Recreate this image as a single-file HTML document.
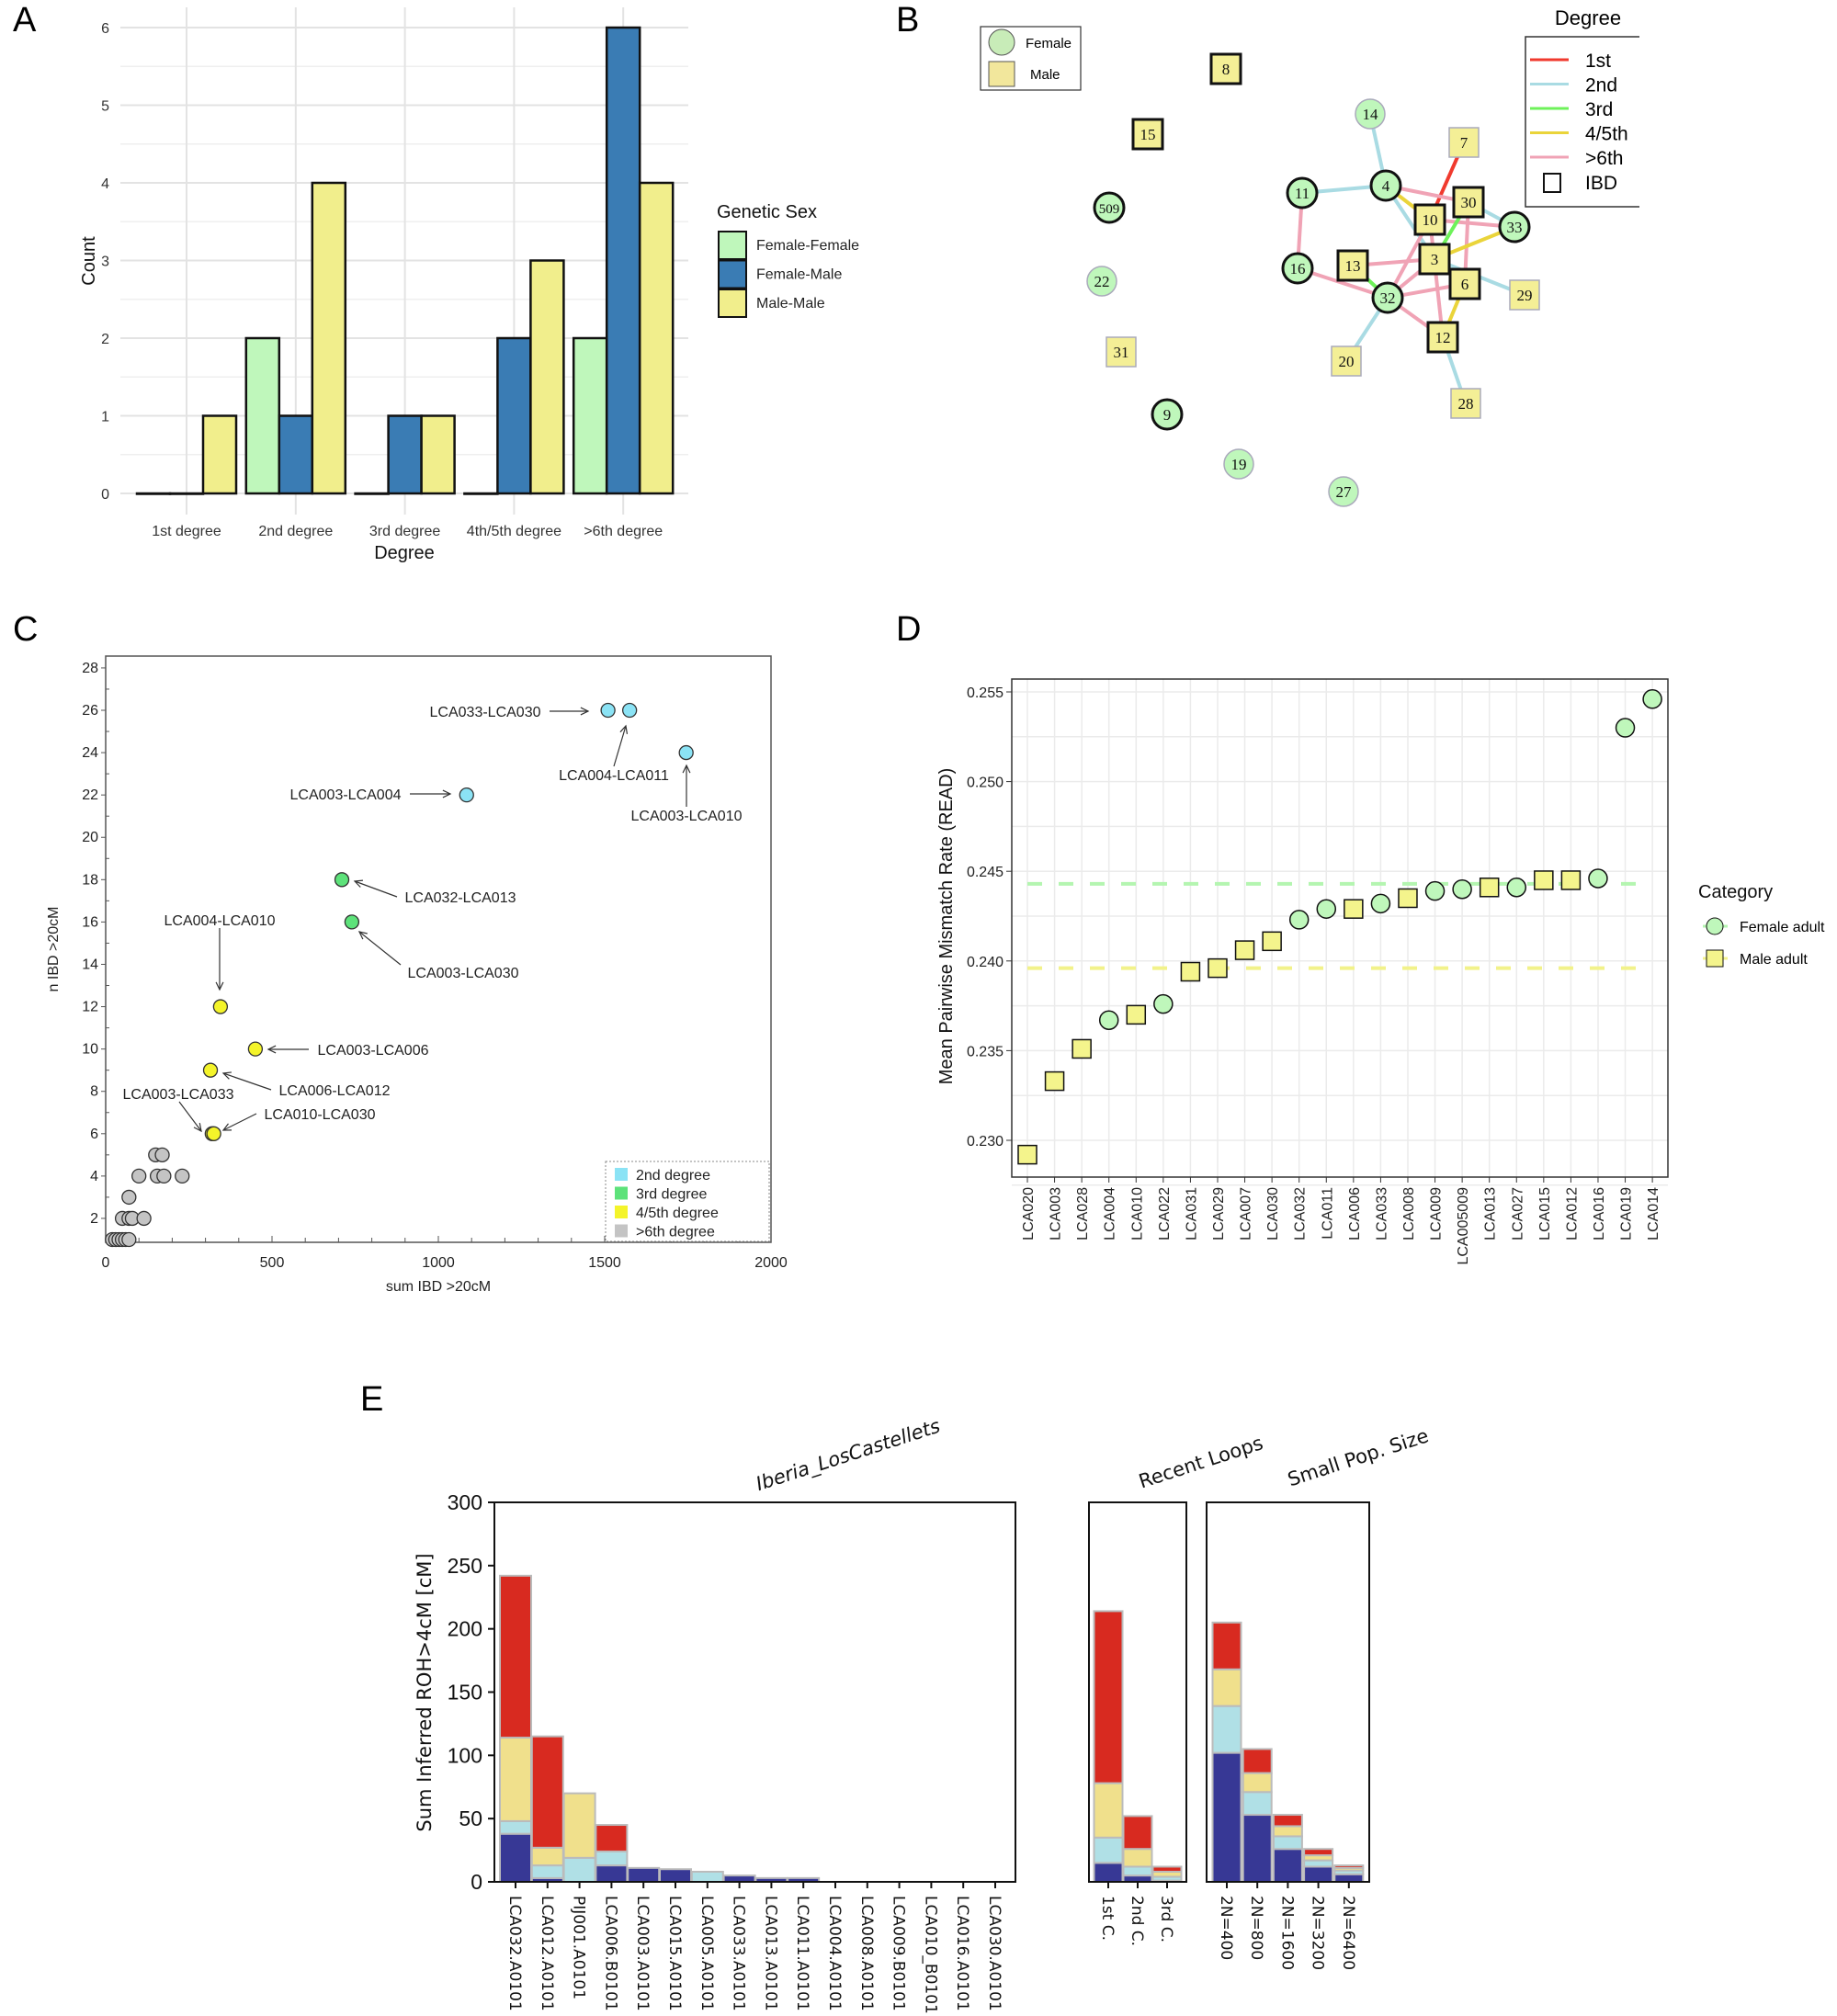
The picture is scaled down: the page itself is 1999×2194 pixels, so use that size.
<!DOCTYPE html>
<html><head><meta charset="utf-8"><style>
body{margin:0;background:#fff}
svg{display:block;font-family:"Liberation Sans",sans-serif}
</style></head><body>
<svg id="fig" width="1999" height="2194" viewBox="0 0 1999 2194" xmlns="http://www.w3.org/2000/svg"></svg>
<script>
// ---------- Panel A data ----------
const aCategories = ["1st degree","2nd degree","3rd degree","4th/5th degree",">6th degree"];
const aSeries = ["Female-Female","Female-Male","Male-Male"];
const aFF = [0,2,0,0,2];
const aFM = [0,1,1,2,6];
const aMM = [1,4,1,3,4];
const aTicks = [0,1,2,3,4,5,6];
// ---------- Panel C data ----------
const cSum = [1510,1575,1745,1085,710,740,345,450,315,320,325,150,170,100,155,175,230,70,50,70,80,115,20,30,40,50,60,70];
const cN   = [26,26,24,22,18,16,12,10,9,6,6,5,5,4,4,4,4,3,2,2,2,2,1,1,1,1,1,1];
const cDeg = ["2nd","2nd","2nd","2nd","3rd","3rd","45","45","45","45","45","6","6","6","6","6","6","6","6","6","6","6","6","6","6","6","6","6"];
const cXTicks = [0,500,1000,1500,2000];
const cYTicks = [2,4,6,8,10,12,14,16,18,20,22,24,26,28];
// ---------- Panel D data ----------
const dSamples = ["LCA020","LCA003","LCA028","LCA004","LCA010","LCA022","LCA031","LCA029","LCA007","LCA030","LCA032","LCA011","LCA006","LCA033","LCA008","LCA009","LCA005009","LCA013","LCA027","LCA015","LCA012","LCA016","LCA019","LCA014"];
const dValues = [0.2292,0.2333,0.2351,0.2367,0.2370,0.2376,0.2394,0.2396,0.2406,0.2411,0.2423,0.2429,0.2429,0.2432,0.2435,0.2439,0.2440,0.2441,0.2441,0.2445,0.2445,0.2446,0.2530,0.2546];
const dSex = ["M","M","M","F","M","F","M","M","M","M","F","F","M","F","M","F","F","M","F","M","M","F","F","F"];
const dTicks = [0.230,0.235,0.240,0.245,0.250,0.255];
const dFemaleMean = 0.2443;
const dMaleMean = 0.2396;
// ---------- Panel E data ----------
const eSamples = ["LCA032.A0101","LCA012.A0101","PIJ001.A0101","LCA006.B0101","LCA003.A0101","LCA015.A0101","LCA005.A0101","LCA033.A0101","LCA013.A0101","LCA011.A0101","LCA004.A0101","LCA008.A0101","LCA009.B0101","LCA010_B0101","LCA016.A0101","LCA030.A0101"];
const eDark  = [38,3,0,13,11,10,0,5,3,3,0,0,0,0,0,0];
const eLight = [10,10,19,11,0,0,8,0,0,0,0,0,0,0,0,0];
const eBeige = [66,14,51,0,0,0,0,0,0,0,0,0,0,0,0,0];
const eRed   = [128,88,0,21,0,0,0,0,0,0,0,0,0,0,0,0];
const loopCats = ["1st C.","2nd C.","3rd C."];
const loopDark = [15,5,1];
const loopLight = [20,7,3];
const loopBeige = [43,14,4];
const loopRed = [136,26,4];
const popCats = ["2N=400","2N=800","2N=1600","2N=3200","2N=6400"];
const popDark = [102,53,26,12,6];
const popLight = [37,18,10,5,3];
const popBeige = [29,15,8,4,2];
const popRed = [37,19,9,5,2];
const eTicks = [0,50,100,150,200,250,300];

const NS="http://www.w3.org/2000/svg";
const svg=document.getElementById('fig');
function el(tag,attrs,parent,text){const e=document.createElementNS(NS,tag);for(const k in attrs)e.setAttribute(k,attrs[k]);if(text!==undefined)e.textContent=text;(parent||svg).appendChild(e);return e;}
function grp(name){const g=el('g',{});return g;}

// panel letters
[["A",14,34],["B",975,34],["C",14,697],["D",975,697],["E",392,1535]].forEach(p=>{
  const t=el('text',{x:p[1],y:p[2],'font-size':38},svg,p[0]);
  
  
});

// ================= Panel A =================
(function(){
  const g=grp('panel-a-bar-chart');
  const x0=131,x1=749,yZero=537,unit=84.5;
  const yS=v=>yZero-v*unit;
  const cx=i=>203+i*118.8;
  for(let v=0.5;v<=6.5;v+=1){el('line',{x1:x0,x2:x1,y1:yS(v),y2:yS(v),stroke:'#efefef','stroke-width':1.5},g);}
  aTicks.forEach(v=>{el('line',{x1:x0,x2:x1,y1:yS(v),y2:yS(v),stroke:'#e3e3e3','stroke-width':2},g);
    const t=el('text',{x:119,y:yS(v)+6,'font-size':16,'text-anchor':'end',fill:'#333'},g,String(v));
    
    });
  aCategories.forEach((c,i)=>{el('line',{x1:cx(i),x2:cx(i),y1:8,y2:560,stroke:'#e3e3e3','stroke-width':2},g);
    const t=el('text',{x:cx(i),y:583,'font-size':16,'text-anchor':'middle',fill:'#333'},g,c);
    
    });
  const cols=['#bff7bb','#3a7cb4','#f1ee8c'];
  const series=[aFF,aFM,aMM];
  aCategories.forEach((c,i)=>{series.forEach((s,j)=>{
    const bx=cx(i)+(j-1)*36-18;
    const r=el('rect',{x:bx,y:yS(s[i]),width:36,height:Math.max(s[i]*unit,0.5),fill:cols[j],stroke:'#111','stroke-width':2.5},g);
    
    
  });});
  let t=el('text',{x:440,y:608,'font-size':20,'text-anchor':'middle',fill:'#111'},g,'Degree');
  
  
  t=el('text',{x:0,y:0,'font-size':20,'text-anchor':'middle',fill:'#111',transform:'translate(103,284) rotate(-90)'},g,'Count');
  
  
  t=el('text',{x:780,y:237,'font-size':20,fill:'#111'},g,'Genetic Sex');
  
  
  aSeries.forEach((s,j)=>{
    const lg=grp('legend-entry');
    el('rect',{x:782,y:252+j*31.5,width:30,height:30,fill:cols[j],stroke:'#111','stroke-width':2},lg);
    el('text',{x:823,y:272+j*31.5,'font-size':16,fill:'#222'},lg,s);
  });
})();

// ================= Panel B =================
(function(){
  const g=grp('panel-b-network');
  const nodes={8:[1334,75,'M',1],15:[1249,146,'M',1],509:[1207,226,'F',1],22:[1199,306,'F',0],31:[1220,383,'M',0],9:[1270,451,'F',1],19:[1348,505,'F',0],27:[1462,535,'F',0],14:[1491,124,'F',0],7:[1593,155,'M',0],4:[1508,202,'F',1],11:[1417,210,'F',1],30:[1598,220,'M',1],10:[1556,239,'M',1],33:[1648,247,'F',1],3:[1561,282,'M',1],13:[1472,289,'M',1],16:[1412,292,'F',1],6:[1594,309,'M',1],32:[1510,324,'F',1],29:[1659,321,'M',0],12:[1570,367,'M',1],20:[1465,393,'M',0],28:[1595,439,'M',0]};
  const ec={r:'#f03a2e',b:'#a9dbe3',g:'#6ef25a',y:'#ead43a',p:'#f0a3b5'};
  const edges=[[14,4,'b'],[7,10,'r'],[4,11,'b'],[11,16,'p'],[4,30,'p'],[4,10,'y'],[4,3,'b'],[30,33,'b'],[10,33,'p'],[30,3,'g'],[30,6,'p'],[33,3,'y'],[3,13,'p'],[3,29,'b'],[16,32,'p'],[13,32,'g'],[32,3,'p'],[32,6,'p'],[32,10,'p'],[32,12,'p'],[6,12,'y'],[10,12,'p'],[32,20,'b'],[12,28,'b']];
  edges.forEach(e=>{const a=nodes[e[0]],b=nodes[e[1]];
    const l=el('line',{x1:a[0],y1:a[1],x2:b[0],y2:b[1],stroke:ec[e[2]],'stroke-width':4},g);
    
    });
  Object.keys(nodes).forEach(k=>{const n=nodes[k];
    const ng=grp('node-'+k);
    const sw=n[3]?3:1.5, sc=n[3]?'#111':'#aab';
    if(n[2]==='F') el('circle',{cx:n[0],cy:n[1],r:16,fill:'#bff7bb',stroke:sc,'stroke-width':sw},ng);
    else el('rect',{x:n[0]-16,y:n[1]-16,width:32,height:32,fill:'#f4ef96',stroke:sc,'stroke-width':sw},ng);
    el('text',{x:n[0],y:n[1]+6,'font-size':k.length>2?15:17,'text-anchor':'middle','font-family':'Liberation Serif, serif',fill:'#111'},ng,k);
  });
  const lg=grp('sex-legend');
  el('rect',{x:1067,y:29,width:109,height:69,fill:'#fff',stroke:'#333','stroke-width':1.2},lg);
  el('circle',{cx:1090,cy:46,r:14,fill:'#c8ecb8',stroke:'#555'},lg);
  el('rect',{x:1076,y:67,width:28,height:27,fill:'#f2e79c',stroke:'#555'},lg);
  el('text',{x:1116,y:52,'font-size':15},lg,'Female');
  el('text',{x:1121,y:86,'font-size':15},lg,'Male');
  const dg=grp('degree-legend');
  el('text',{x:1728,y:27,'font-size':22,'text-anchor':'middle'},dg,'Degree');
  el('path',{d:'M1784 40 H1660 V225 H1784',fill:'none',stroke:'#333','stroke-width':1.5},dg);
  [['1st',ec.r],['2nd',ec.b],['3rd',ec.g],['4/5th',ec.y],['>6th',ec.p]].forEach((d,i)=>{
    el('line',{x1:1665,x2:1707,y1:65+i*26.5,y2:65+i*26.5,stroke:d[1],'stroke-width':3},dg);
    el('text',{x:1725,y:73+i*26.5,'font-size':21},dg,d[0]);
  });
  el('rect',{x:1680,y:189,width:18,height:20,fill:'none',stroke:'#111','stroke-width':2},dg);
  el('text',{x:1725,y:206,'font-size':21},dg,'IBD');
})();

// ================= Panel C =================
(function(){
  const g=grp('panel-c-scatter');
  const xS=v=>115+v/2000*724;
  const yS=v=>1349-(v-1)*23.04;
  el('rect',{x:115,y:714,width:724,height:638,fill:'none',stroke:'#555','stroke-width':1.5},g);
  cXTicks.forEach(v=>{el('line',{x1:xS(v),x2:xS(v),y1:1352,y2:1345,stroke:'#555'},g);
    const t=el('text',{x:xS(v),y:1379,'font-size':16,'text-anchor':'middle',fill:'#222'},g,String(v));
    
    });
  for(let v=100;v<2000;v+=100){el('line',{x1:xS(v),x2:xS(v),y1:1352,y2:1347,stroke:'#555'},g);}
  cYTicks.forEach(v=>{el('line',{x1:110,x2:115,y1:yS(v),y2:yS(v),stroke:'#555'},g);
    const t=el('text',{x:107,y:yS(v)+5,'font-size':16,'text-anchor':'end',fill:'#222'},g,String(v));
    
    });
  for(let v=1;v<=27;v+=2){el('line',{x1:115,x2:119,y1:yS(v),y2:yS(v),stroke:'#555'},g);}
  const col={"2nd":'#8be3f5',"3rd":'#5de27a',"45":'#f4f42a',"6":'#c4c4c4'};
  cSum.forEach((s,i)=>{const c=el('circle',{cx:xS(s),cy:yS(cN[i]),r:7.5,fill:col[cDeg[i]],stroke:'#333','stroke-width':1.3},g);
    
    });
  const ann=[["LCA033-LCA030",528,780,598,774,640,774],["LCA004-LCA011",668,849,668,834,681,790],["LCA003-LCA010",747,893,747,878,747,833],["LCA003-LCA004",376,870,446,864,490,864],["LCA032-LCA013",501,982,432,976,386,959],["LCA003-LCA030",504,1064,436,1050,391,1014],["LCA004-LCA010",239,1007,239,1010,239,1077],["LCA003-LCA006",406,1148,336,1142,292,1142],["LCA006-LCA012",364,1192,295,1186,243,1168],["LCA003-LCA033",194,1196,195,1199,219,1231],["LCA010-LCA030",348,1218,279,1212,243,1230]];
  ann.forEach(a=>{const ag=grp('annotation');
    el('text',{x:a[1],y:a[2],'font-size':16,'text-anchor':'middle',fill:'#222'},ag,a[0]);
    el('line',{x1:a[3],y1:a[4],x2:a[5],y2:a[6],stroke:'#333','stroke-width':1.2},ag);
    const ang=Math.atan2(a[6]-a[4],a[5]-a[3]);const L=9;
    el('path',{d:`M${a[5]-L*Math.cos(ang-0.45)} ${a[6]-L*Math.sin(ang-0.45)} L${a[5]} ${a[6]} L${a[5]-L*Math.cos(ang+0.45)} ${a[6]-L*Math.sin(ang+0.45)}`,fill:'none',stroke:'#333','stroke-width':1.2},ag);
  });
  let t=el('text',{x:477,y:1405,'font-size':16,'text-anchor':'middle',fill:'#222'},g,'sum IBD >20cM');
  
  
  t=el('text',{x:0,y:0,'font-size':16,'text-anchor':'middle',fill:'#222',transform:'translate(63,1033) rotate(-90)'},g,'n IBD >20cM');
  
  
  const lg=grp('legend');
  el('rect',{x:659,y:1264,width:178,height:87,fill:'#fff',stroke:'#888','stroke-dasharray':'2,2'},lg);
  [['2nd degree',col["2nd"]],['3rd degree',col["3rd"]],['4/5th degree',col["45"]],['>6th degree',col["6"]]].forEach((d,i)=>{
    el('rect',{x:669,y:1271+i*20.5,width:14,height:14,fill:d[1]},lg);
    el('text',{x:692,y:1284+i*20.5,'font-size':16,fill:'#222'},lg,d[0]);
  });
})();

// ================= Panel D =================
(function(){
  const g=grp('panel-d-dotplot');
  const yS=v=>1241-(v-0.230)/0.005*97.6;
  const xS=i=>1118+i*29.57;
  for(let v=0.2275;v<0.2565;v+=0.0025){el('line',{x1:1101,x2:1815,y1:yS(v),y2:yS(v),stroke:'#ebebeb','stroke-width':1.5},g);}
  dSamples.forEach((s,i)=>{el('line',{x1:xS(i),x2:xS(i),y1:739,y2:1281,stroke:'#ebebeb','stroke-width':1.5},g);
    el('line',{x1:xS(i),x2:xS(i),y1:1281,y2:1287,stroke:'#333'},g);
    const t=el('text',{x:0,y:0,'font-size':16,'text-anchor':'end',fill:'#222',transform:`translate(${xS(i)+6},1292) rotate(-90)`},g,s);
    
    });
  dTicks.forEach(v=>{el('line',{x1:1095,x2:1101,y1:yS(v),y2:yS(v),stroke:'#333'},g);
    const t=el('text',{x:1092,y:yS(v)+6,'font-size':16,'text-anchor':'end',fill:'#222'},g,v.toFixed(3));
    
    });
  let l=el('line',{x1:1118,x2:1785,y1:yS(dFemaleMean),y2:yS(dFemaleMean),stroke:'#b4f5b0','stroke-width':4,'stroke-dasharray':'16,18'},g);
  
  
  l=el('line',{x1:1118,x2:1785,y1:yS(dMaleMean),y2:yS(dMaleMean),stroke:'#f2f28a','stroke-width':4,'stroke-dasharray':'16,18'},g);
  
  
  el('rect',{x:1101,y:739,width:714,height:542,fill:'none',stroke:'#333','stroke-width':1.5},g);
  dSamples.forEach((s,i)=>{let m;
    if(dSex[i]==='F') m=el('circle',{cx:xS(i),cy:yS(dValues[i]),r:10,fill:'#bff7bb',stroke:'#111','stroke-width':1.5},g);
    else m=el('rect',{x:xS(i)-10,y:yS(dValues[i])-10,width:20,height:20,fill:'#f4f48c',stroke:'#111','stroke-width':1.5},g);
    
    });
  let t=el('text',{x:0,y:0,'font-size':20,'text-anchor':'middle',fill:'#111',transform:'translate(1036,1008) rotate(-90)'},g,'Mean Pairwise Mismatch Rate (READ)');
  
  
  t=el('text',{x:1848,y:977,'font-size':20,fill:'#111'},g,'Category');
  
  
  const l1=grp('legend-entry-female');
  el('line',{x1:1853,x2:1880,y1:1008,y2:1008,stroke:'#b4f5b0','stroke-width':3},l1);
  el('circle',{cx:1866,cy:1008,r:9,fill:'#bff7bb',stroke:'#111'},l1);
  el('text',{x:1893,y:1014,'font-size':16},l1,'Female adult');
  const l2=grp('legend-entry-male');
  el('line',{x1:1853,x2:1880,y1:1043,y2:1043,stroke:'#f2f28a','stroke-width':3},l2);
  el('rect',{x:1857,y:1034,width:18,height:18,fill:'#f4f48c',stroke:'#111'},l2);
  el('text',{x:1893,y:1049,'font-size':16},l2,'Male adult');
})();

// ================= Panel E =================
(function(){
  const yZ=2048,per=413/300;
  const yS=v=>yZ-v*per;
  const colors=['#373895','#b0e0e6','#f0e08c','#d82a20'];
  function stacked(g,cats,arrs,xc,w,name){
    cats.forEach((c,i)=>{let base=0;
      arrs.forEach((a,j)=>{const v=a[i];if(v<=0)return;
        const r=el('rect',{x:xc(i)-w/2,y:yS(base+v),width:w,height:v*per,fill:colors[j],stroke:'#bbb','stroke-width':2},g);
        
        
        base+=v;});
      el('line',{x1:xc(i),x2:xc(i),y1:yZ,y2:yZ+7,stroke:'#111','stroke-width':2},g);
      const t=el('text',{x:0,y:0,'font-size':17,'font-family':'DejaVu Sans, sans-serif',fill:'#111',transform:`translate(${xc(i)-6},2063) rotate(90)`},g,c);
      
      
    });
  }
  const g1=grp('panel-e-castellets');
  stacked(g1,eSamples,[eDark,eLight,eBeige,eRed],i=>561+i*34.8,34,'castellets-bar');
  el('rect',{x:538,y:1635,width:567,height:413,fill:'none',stroke:'#111','stroke-width':2},g1);
  eTicks.forEach(v=>{el('line',{x1:531,x2:538,y1:yS(v),y2:yS(v),stroke:'#111','stroke-width':2},g1);
    const t=el('text',{x:525,y:yS(v)+8,'font-size':23,'text-anchor':'end',fill:'#111',transform:`scale(1,1)`},g1,String(v));
    
    });
  let t=el('text',{x:0,y:0,'font-size':21,'text-anchor':'middle','font-family':'DejaVu Sans, sans-serif',fill:'#111',transform:'translate(469,1842) rotate(-90)'},g1,'Sum Inferred ROH>4cM [cM]');
  
  
  t=el('text',{x:0,y:0,'font-size':21,'text-anchor':'middle','font-family':'DejaVu Sans, sans-serif','font-style':'italic',fill:'#111',transform:'translate(925,1590) rotate(-18)'},g1,'Iberia_LosCastellets');
  
  
  const g2=grp('panel-e-recent-loops');
  stacked(g2,loopCats,[loopDark,loopLight,loopBeige,loopRed],i=>1206+i*32,31,'loops-bar');
  el('rect',{x:1185,y:1635,width:106,height:413,fill:'none',stroke:'#111','stroke-width':2},g2);
  t=el('text',{x:0,y:0,'font-size':21,'text-anchor':'middle','font-family':'DejaVu Sans, sans-serif',fill:'#111',transform:'translate(1309,1598) rotate(-18)'},g2,'Recent Loops');
  
  
  const g3=grp('panel-e-small-pop');
  stacked(g3,popCats,[popDark,popLight,popBeige,popRed],i=>1335+i*33.2,31,'pop-bar');
  el('rect',{x:1313,y:1635,width:177,height:413,fill:'none',stroke:'#111','stroke-width':2},g3);
  t=el('text',{x:0,y:0,'font-size':21,'text-anchor':'middle','font-family':'DejaVu Sans, sans-serif',fill:'#111',transform:'translate(1480,1593) rotate(-18)'},g3,'Small Pop. Size');
  
  
})();
</script>
</body></html>
